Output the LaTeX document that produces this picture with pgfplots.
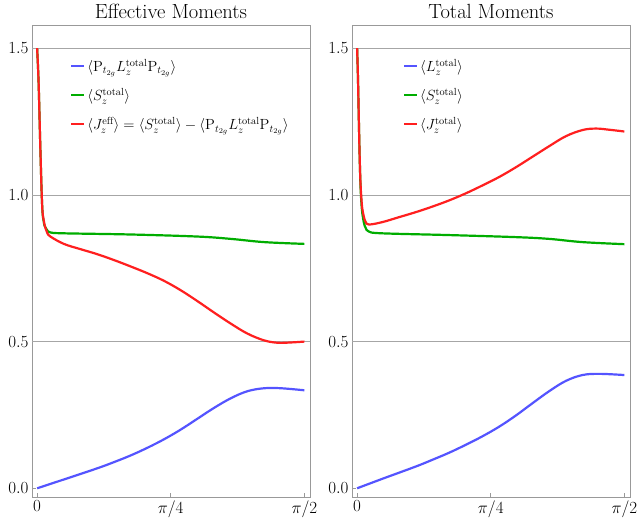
\documentclass[border=0pt]{standalone}
\usepackage{fix-cm}
\usepackage{fontspec}
\usepackage{pgfplots}
\pgfplotsset{compat=1.18}

\definecolor{mblue}{rgb}{0.33,0.33,1}
\definecolor{mgreen}{rgb}{0,0.68,0}
\definecolor{mred}{rgb}{1,0.12,0.12}

\pgfplotsset{
  momaxis/.style={
    anchor=south west,
    scale only axis,
    width=278pt, height=472pt,
    xmin=-0.03, xmax=1.604,
    ymin=-0.0297, ymax=1.579,
    xtick={0,0.7854,1.5708},
    xticklabels={$0$,$\pi/4$,$\pi/2$},
    ytick={0,0.5,1,1.5},
    yticklabels={$0.0$,$0.5$,$1.0$,$1.5$},
    extra y ticks={0.5,1,1.5},
    extra y tick labels={},
    extra y tick style={grid=major, major tick length=0pt},
    grid style={gray!70, line width=0.6pt},
    axis line style={gray!80, line width=0.8pt},
    tick style={gray!80, line width=0.6pt},
    tick align=inside,
    major tick length=4pt,
    xtick pos=bottom, ytick pos=left,
    ticklabel style={font=\fontsize{17}{19}\selectfont},
    title style={font=\fontsize{20.5}{23}\selectfont, yshift=-3pt},
    legend style={draw=none, fill=none, font=\fontsize{14.7}{17}\selectfont,
      anchor=north west, row sep=11pt, inner sep=0pt},
    legend cell align=left,
    legend image code/.code={\draw[#1, line width=2pt] (0pt,0pt) -- (13pt,0pt);},
    every axis plot/.append style={line width=2.2pt, smooth, tension=0.6},
  }
}

\begin{document}
\begin{tikzpicture}
\useasboundingbox (0,0) rectangle (639pt,525pt);

\begin{axis}[momaxis, at={(32pt,28pt)},
  title={Effective Moments},
  legend style={at={(0.137,0.932)}}]
\addplot[mblue] coordinates {
  (0,0) (0.157,0.030) (0.353,0.068) (0.451,0.089) (0.550,0.112) (0.648,0.138)
  (0.746,0.167) (0.844,0.200) (0.942,0.237) (1.040,0.274) (1.139,0.307)
  (1.237,0.331) (1.335,0.341) (1.433,0.341) (1.5708,0.334)};
\addplot[mgreen] coordinates {
  (0,1.5) (0.005,1.44) (0.01,1.36) (0.02,1.14) (0.03,0.96) (0.04,0.905)
  (0.05,0.888) (0.06,0.879) (0.078,0.872) (0.157,0.869) (0.550,0.865)
  (0.942,0.858) (1.139,0.850) (1.335,0.839) (1.5708,0.833)};
\addplot[mred] coordinates {
  (0,1.5) (0.005,1.44) (0.01,1.36) (0.02,1.14) (0.03,0.96) (0.04,0.91)
  (0.05,0.885) (0.06,0.870) (0.078,0.858) (0.157,0.833) (0.255,0.815)
  (0.353,0.798) (0.451,0.778) (0.550,0.756) (0.648,0.733) (0.746,0.707)
  (0.844,0.675) (0.942,0.638) (1.040,0.599) (1.139,0.561) (1.237,0.527)
  (1.335,0.504) (1.414,0.496) (1.492,0.497) (1.5708,0.500)};
\legend{$\langle \mathrm{P}_{t_{2g}} L_z^{\mathrm{total}} \mathrm{P}_{t_{2g}}\rangle$,
  $\langle S_z^{\mathrm{total}}\rangle$,
  $\langle J_z^{\mathrm{eff}}\rangle = \langle S_z^{\mathrm{total}}\rangle - \langle \mathrm{P}_{t_{2g}} L_z^{\mathrm{total}} \mathrm{P}_{t_{2g}}\rangle$}
\end{axis}

\begin{axis}[momaxis, at={(352pt,28pt)},
  title={Total Moments},
  legend style={at={(0.183,0.932)}}]
\addplot[mblue] coordinates {
  (0,0) (0.147,0.032) (0.344,0.074) (0.442,0.097) (0.540,0.121) (0.638,0.148)
  (0.736,0.177) (0.835,0.210) (0.933,0.248) (1.031,0.290) (1.129,0.331)
  (1.227,0.366) (1.325,0.386) (1.424,0.390) (1.5708,0.386)};
\addplot[mgreen] coordinates {
  (0,1.5) (0.005,1.40) (0.01,1.26) (0.015,1.13) (0.02,1.03) (0.025,0.975)
  (0.03,0.94) (0.04,0.905) (0.05,0.888) (0.069,0.875) (0.147,0.869)
  (0.540,0.863) (0.933,0.856) (1.129,0.850) (1.325,0.839) (1.5708,0.832)};
\addplot[mred] coordinates {
  (0,1.5) (0.005,1.40) (0.01,1.26) (0.015,1.13) (0.02,1.04) (0.025,0.99)
  (0.03,0.955) (0.04,0.925) (0.05,0.908) (0.069,0.899) (0.147,0.907)
  (0.246,0.924) (0.344,0.941) (0.442,0.960) (0.540,0.981) (0.638,1.005)
  (0.736,1.032) (0.835,1.061) (0.933,1.094) (1.031,1.130) (1.129,1.166)
  (1.227,1.200) (1.325,1.221) (1.404,1.226) (1.482,1.222) (1.5708,1.216)};
\legend{$\langle L_z^{\mathrm{total}}\rangle$,
  $\langle S_z^{\mathrm{total}}\rangle$,
  $\langle J_z^{\mathrm{total}}\rangle$}
\end{axis}
\end{tikzpicture}
\end{document}
